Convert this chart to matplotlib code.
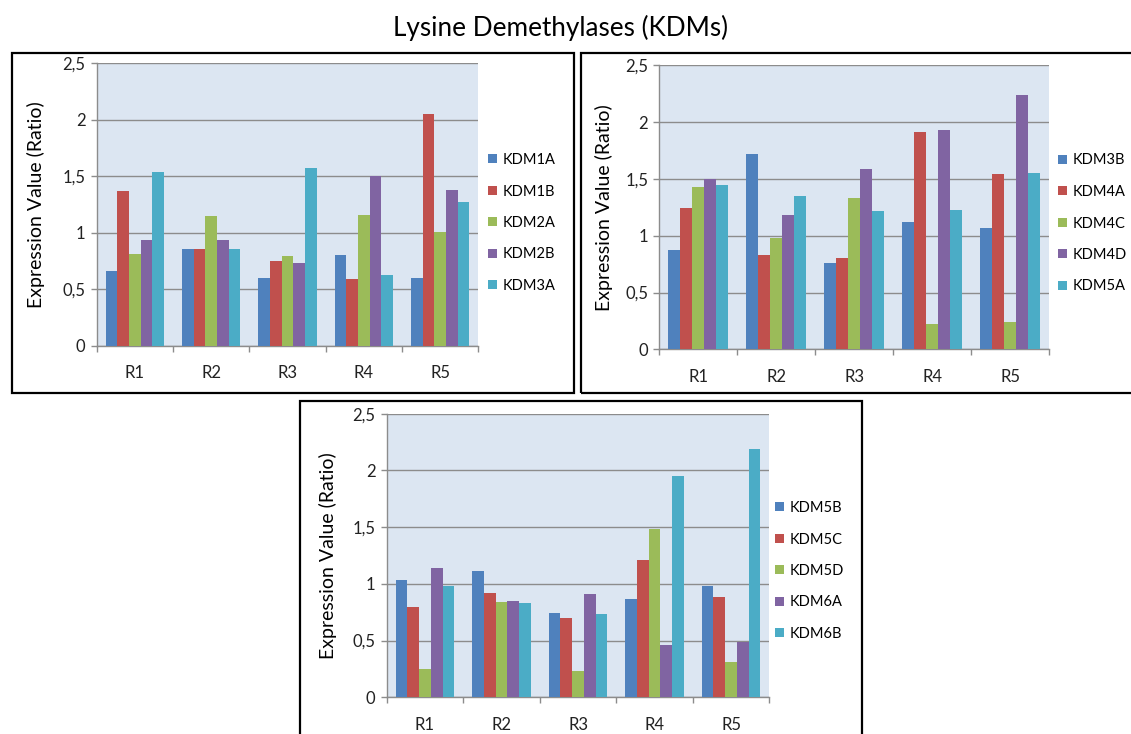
import numpy as np
import matplotlib.pyplot as plt
from matplotlib.patches import Rectangle
from matplotlib.ticker import FuncFormatter

plt.rcParams['font.family'] = ['Lato', 'DejaVu Sans']

regions = ["R1", "R2", "R3", "R4", "R5"]

# top-left panel
genes_1 = ["KDM1A", "KDM1B", "KDM2A", "KDM2B", "KDM3A"]
kdm1a = [0.66, 0.86, 0.60, 0.80, 0.60]
kdm1b = [1.37, 0.86, 0.75, 0.59, 2.05]
kdm2a = [0.81, 1.15, 0.79, 1.16, 1.01]
kdm2b = [0.94, 0.94, 0.73, 1.50, 1.38]
kdm3a = [1.54, 0.86, 1.57, 0.63, 1.27]

# top-right panel
genes_2 = ["KDM3B", "KDM4A", "KDM4C", "KDM4D", "KDM5A"]
kdm3b = [0.87, 1.72, 0.76, 1.12, 1.07]
kdm4a = [1.24, 0.83, 0.80, 1.91, 1.54]
kdm4c = [1.43, 0.98, 1.33, 0.22, 0.24]
kdm4d = [1.50, 1.18, 1.59, 1.93, 2.24]
kdm5a = [1.45, 1.35, 1.22, 1.23, 1.55]

# bottom panel
genes_3 = ["KDM5B", "KDM5C", "KDM5D", "KDM6A", "KDM6B"]
kdm5b = [1.03, 1.11, 0.74, 0.87, 0.98]
kdm5c = [0.80, 0.92, 0.70, 1.21, 0.88]
kdm5d = [0.25, 0.84, 0.23, 1.48, 0.31]
kdm6a = [1.14, 0.85, 0.91, 0.46, 0.49]
kdm6b = [0.98, 0.83, 0.73, 1.95, 2.19]

colors = ["#4F81BD", "#C0504D", "#9BBB59", "#8064A2", "#4BACC6"]

W, H = 1131, 734
fig = plt.figure(figsize=(W / 100, H / 100), dpi=100)
fig.patch.set_facecolor("white")


def px_rect(x0, y0, x1, y1):
    return [x0 / W, 1 - y1 / H, (x1 - x0) / W, (y1 - y0) / H]


# panel layout in pixels: frame box, plot area, y-label offset, legend anchor
panels = [
    dict(genes=genes_1, data=[kdm1a, kdm1b, kdm2a, kdm2b, kdm3a],
         frame=(12, 52.5, 573.5, 393), plot=(96.7, 63.3, 478.3, 345.7),
         ylab_off=61, legend=(488, 223)),
    dict(genes=genes_2, data=[kdm3b, kdm4a, kdm4c, kdm4d, kdm5a],
         frame=(580.5, 52.5, 1145, 393), plot=(659.3, 65.3, 1049.3, 349.3),
         ylab_off=55, legend=(1058, 223.5)),
    dict(genes=genes_3, data=[kdm5b, kdm5c, kdm5d, kdm6a, kdm6b],
         frame=(299.5, 401, 861.5, 760), plot=(386.7, 413.7, 769.3, 697.3),
         ylab_off=59, legend=(775, 571)),
]

n_series = 5
bar_w = 0.153
x = np.arange(len(regions))
grid_col = "#8C8C8C"

for p in panels:
    fx0, fy0, fx1, fy1 = p["frame"]
    fig.patches.append(Rectangle((fx0 / W, 1 - fy1 / H), (fx1 - fx0) / W, (fy1 - fy0) / H,
                                 transform=fig.transFigure, fill=False,
                                 edgecolor="black", linewidth=1.6, zorder=0))

    ax = fig.add_axes(px_rect(*p["plot"]))
    ax.set_facecolor("#DCE6F2")
    for i, (gene, vals) in enumerate(zip(p["genes"], p["data"])):
        offs = (i - (n_series - 1) / 2) * bar_w
        ax.bar(x + offs, vals, width=bar_w, color=colors[i], label=gene, zorder=3)

    ax.set_xlim(-0.5, len(regions) - 0.5)
    ax.set_ylim(0, 2.5)
    ax.set_yticks(np.arange(0, 2.51, 0.5))
    ax.yaxis.set_major_formatter(FuncFormatter(lambda v, pos: f"{v:g}".replace(".", ",")))
    ax.grid(axis="y", color=grid_col, linewidth=1.0, zorder=1)
    ax.set_axisbelow(True)

    ax.set_xticks(x)
    ax.set_xticklabels(regions)
    ax.set_xticks(np.arange(-0.5, len(regions), 1.0), minor=True)
    ax.tick_params(axis="x", which="major", length=0, pad=14, labelsize=12, labelcolor="#222222")
    ax.tick_params(axis="x", which="minor", length=4, width=1, color=grid_col, direction="out")
    ax.tick_params(axis="y", length=4, width=1, color=grid_col, pad=4, labelsize=12,
                   labelcolor="#222222")

    for s in ("top", "right"):
        ax.spines[s].set_visible(False)
    for s in ("left", "bottom"):
        ax.spines[s].set_color(grid_col)
        ax.spines[s].set_linewidth(1.0)

    ax.set_ylabel("Expression Value (Ratio)", fontsize=14, va="center")
    axw = p["plot"][2] - p["plot"][0]
    ax.yaxis.set_label_coords(-p["ylab_off"] / axw, 0.5)

    lx, ly = p["legend"]
    ax.legend(loc="center left", bbox_to_anchor=(lx / W, 1 - ly / H),
              bbox_transform=fig.transFigure, frameon=False, fontsize=10.5,
              handlelength=0.6, handleheight=0.6, handletextpad=0.4,
              labelspacing=1.2, borderpad=0, borderaxespad=0)

fig.text(0.496, 1 - 28 / H, "Lysine Demethylases (KDMs)", ha="center", va="center", fontsize=18.8)

fig.savefig("out.png", dpi=100)
